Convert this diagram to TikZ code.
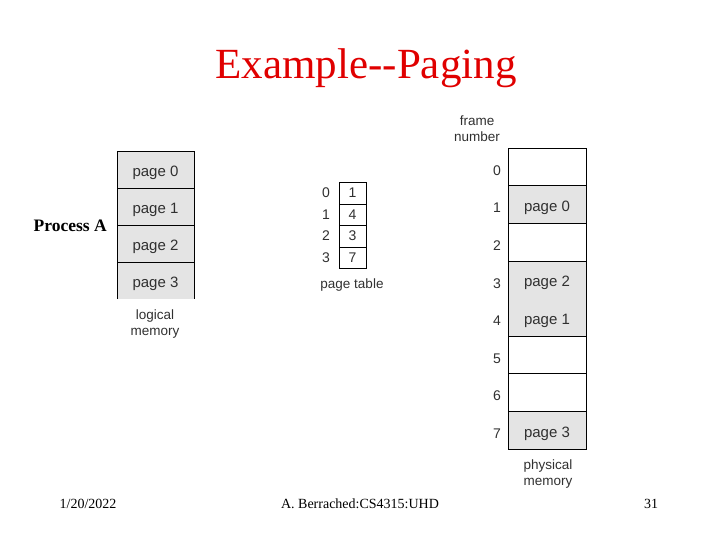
\documentclass[tikz,border=0pt]{standalone}
\usepackage{fontspec}
\setmainfont{Liberation Serif}
\setsansfont{Liberation Sans}
\usepackage{xcolor}
\usetikzlibrary{positioning}
\definecolor{slideRed}{HTML}{E00000}
\definecolor{pageGrey}{HTML}{E4E4E4}
\definecolor{labelGrey}{HTML}{303030}
\tikzset{
  pg/cell/.style    = {minimum width=77pt, minimum height=37pt, inner sep=0pt, outer sep=0pt,
                       text height=14pt, text depth=0pt,
                       font=\sffamily\fontsize{15}{17}\selectfont, text=labelGrey},
  pg/used/.style    = {pg/cell, fill=pageGrey},
  pg/free/.style    = {pg/cell, fill=white},
  pg/frame/.style   = {pg/cell, minimum width=78pt, minimum height=37.6pt},
  pg/entry/.style   = {minimum width=27pt, minimum height=21.5pt, inner sep=0pt, outer sep=0pt,
                       font=\sffamily\fontsize{14}{16}\selectfont, text=labelGrey},
  pg/index/.style   = {inner sep=0pt, font=\sffamily\fontsize{14}{16}\selectfont, text=labelGrey},
  pg/findex/.style  = {pg/index, text height=17pt, text depth=0pt},
  pg/caption/.style = {align=center, inner sep=0pt, font=\sffamily\fontsize{13.5}{16}\selectfont,
                       text=labelGrey},
  pg/footer/.style  = {inner sep=0pt, font=\rmfamily\fontsize{14}{16}\selectfont},
}
\begin{document}
\begin{tikzpicture}[x=1pt, y=-1pt]
  \useasboundingbox (0,0) rectangle (720,540);
  \node[text=slideRed, font=\rmfamily\fontsize{43}{48}\selectfont] (title) at (366,68)
        {Example\mbox{-}\mbox{-}Paging};
  % logical memory
  \node[pg/used] (lp0) at (155.5,169.5) {page 0};
  \node[pg/used, below=0pt of lp0] (lp1) {page 1};
  \node[pg/used, below=0pt of lp1] (lp2) {page 2};
  \node[pg/used, below=0pt of lp2] (lp3) {page 3};
  \draw (lp3.south west) -- (lp0.north west) -- (lp0.north east) -- (lp3.south east);
  \foreach \i in {0,1,2}
    \draw (lp\i.south west) -- (lp\i.south east);
  \node[pg/caption] (lcap) at (155,324) {logical\\memory};
  \node[inner sep=0pt, anchor=east, font=\rmfamily\bfseries\fontsize{17.5}{20}\selectfont]
        (procA) at (107,226) {Process A};
  % page table
  \node[pg/entry] (pt0) at (352.5,193) {1};
  \node[pg/entry, below=0pt of pt0] (pt1) {4};
  \node[pg/entry, below=0pt of pt1] (pt2) {3};
  \node[pg/entry, below=0pt of pt2] (pt3) {7};
  \draw (pt0.north west) rectangle (pt3.south east);
  \foreach \i in {0,1,2}
    \draw (pt\i.south west) -- (pt\i.south east);
  \foreach \i in {0,...,3}
    \node[pg/index, left=9pt of pt\i] (pi\i) {\i};
  \node[pg/caption] (ptcap) at (352,285) {page table};
  % physical memory
  \node[pg/free] (fr0) at (547,166.8) [pg/frame] {};
  \foreach \i/\j/\txt/\kind in {1/0/page 0/used, 2/1//free, 3/2/page 2/used,
                                4/3/page 1/used, 5/4//free, 6/5//free, 7/6/page 3/used}
    \node[pg/\kind, pg/frame, below=0pt of fr\j] (fr\i) {\txt};
  \draw (fr0.north west) rectangle (fr7.south east);
  \foreach \i in {0,1,2,4,5,6}
    \draw (fr\i.south west) -- (fr\i.south east);
  \foreach \i in {0,...,7}
    \node[pg/findex, left=7pt of fr\i] (fn\i) {\i};
  \node[pg/caption] (fcap) at (477,129) {frame\\number};
  \node[pg/caption] (pcap) at (548,474) {physical\\memory};
  % footer
  \node[pg/footer] (date) at (88,504) {1/20/2022};
  \node[pg/footer] (author) at (360,504) {A. Berrached:CS4315:UHD};
  \node[pg/footer] (slide) at (651,504) {31};
\end{tikzpicture}
\end{document}
